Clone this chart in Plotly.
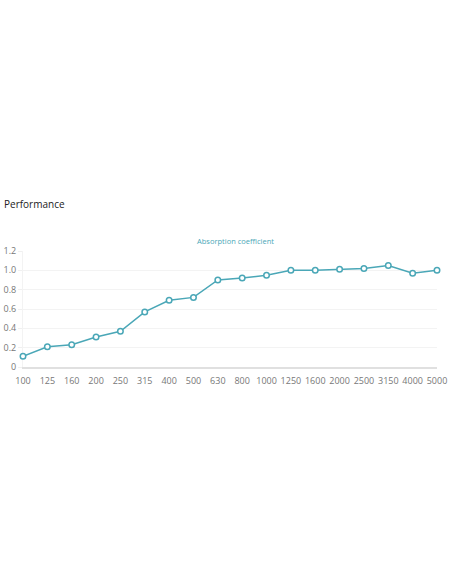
import plotly.graph_objects as go

# frequency bands (Hz) and absorption coefficient
freqs = ["100", "125", "160", "200", "250", "315", "400", "500", "630", "800",
         "1000", "1250", "1600", "2000", "2500", "3150", "4000", "5000"]
absorption = [0.11, 0.21, 0.23, 0.31, 0.37, 0.57, 0.69, 0.72, 0.90, 0.92,
              0.95, 1.00, 1.00, 1.01, 1.02, 1.05, 0.97, 1.00]
y_ticks = [0, 0.2, 0.4, 0.6, 0.8, 1.0, 1.2]
y_labels = ["0", "0.2", "0.4", "0.6", "0.8", "1.0", "1.2"]

teal = "#4aa7b7"

fig = go.Figure()
fig.add_scatter(x=freqs, y=absorption, mode="lines+markers", name="Absorption coefficient",
                line=dict(color=teal, width=1.5),
                marker=dict(size=5.5, color="white", line=dict(color=teal, width=1.5)),
                cliponaxis=False)

plot_h = 584 - 251 - 217
plot_w = 452 - 23 - 15

fig.update_layout(
    width=452, height=584,
    margin=dict(l=23, r=15, t=251, b=217, autoexpand=False),
    paper_bgcolor="white", plot_bgcolor="white",
    font=dict(family="Open Sans", size=9, color="#777"),
    showlegend=False,
    title=dict(text="Performance", x=4 / 452, xanchor="left", y=1 - 204 / 584, yanchor="middle",
               font=dict(family="Open Sans", size=10, color="#222")),
    annotations=[dict(text="Absorption coefficient", xref="paper", yref="paper",
                      x=(235 - 23) / plot_w, y=1 + (251 - 241) / plot_h, yanchor="middle",
                      showarrow=False, font=dict(size=7.5, color=teal))],
)

fig.update_xaxes(type="category", range=[0, len(freqs) - 1], showgrid=False, automargin=False,
                 showline=True, linecolor="#e0e0e0", linewidth=2, layer="below traces",
                 ticks="", ticklabelstandoff=4)
fig.update_yaxes(range=[0, 1.2], tickvals=y_ticks, ticktext=y_labels, automargin=False,
                 showgrid=True, gridcolor="#f3f3f3", zeroline=False, layer="below traces",
                 ticks="outside", ticklen=4, tickcolor="#f0f0f0",
                 showline=True, linecolor="#f3f3f3", linewidth=1)

fig.write_html("out.html", config={"displayModeBar": False},
               post_script="document.body.style.margin='0';")
